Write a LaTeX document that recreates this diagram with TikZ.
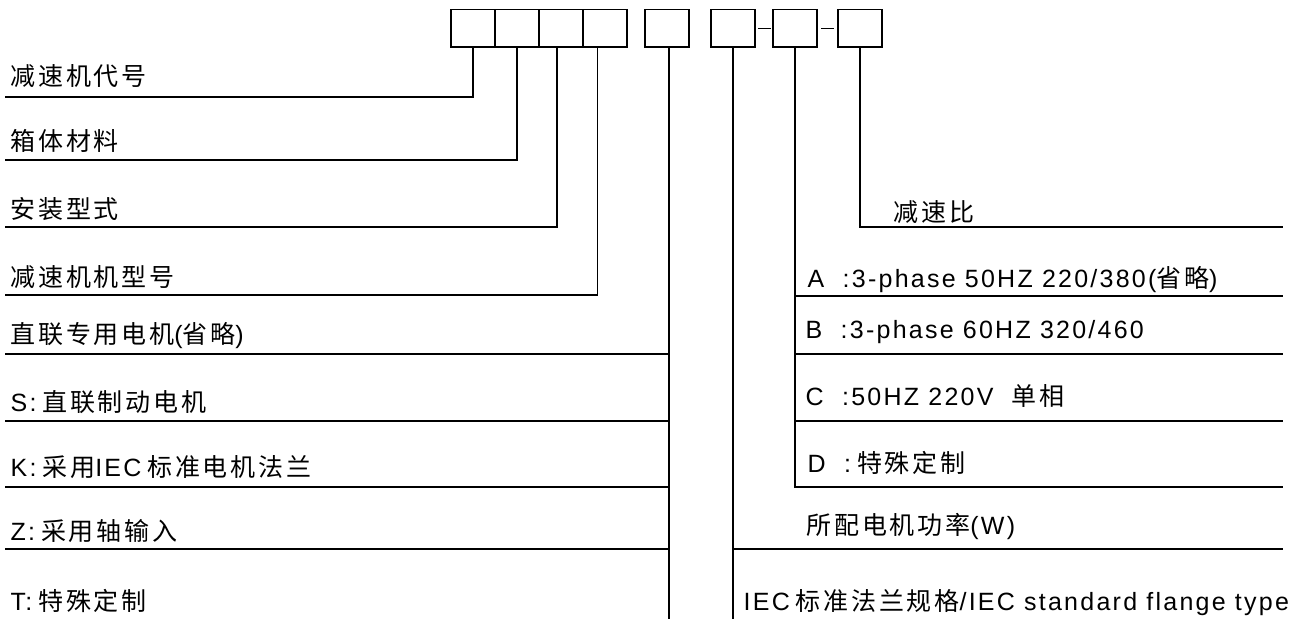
\documentclass[tikz,border=0pt]{standalone}
\usepackage{fontspec}
\setmainfont{Liberation Sans}[LetterSpace=9]
\newfontfamily\cjk{Noto Sans CJK SC}[LetterSpace=11]
\usetikzlibrary{positioning}
\newcommand{\zh}[1]{{\cjk\fontsize{25}{29}\selectfont #1}}
\newcommand{\gap}{\hspace{6pt}}
\newcommand{\leftx}{5}
\newcommand{\rightx}{1283}
\newcommand{\botty}{619}
\tikzset{
  cell/.style={draw, minimum width=44pt, minimum height=37.5pt,
    inner sep=0pt, outer sep=0pt},
  lbl/.style={anchor=base west, inner sep=0pt,
    font=\fontsize{25}{30}\selectfont},
}
\begin{document}
\begin{tikzpicture}[x=1pt, y=-1pt, line width=1.3pt]
    \useasboundingbox (0,0) rectangle (1309,619);
    % code boxes
    \node[cell] (c1) at (473,28.25) {};
    \node[cell, right=0pt of c1] (c2) {};
    \node[cell, right=0pt of c2] (c3) {};
    \node[cell, right=0pt of c3] (c4) {};
    \node[cell, right=18pt of c4] (c5) {};
    \node[cell, right=22pt of c5] (c6) {};
    \node[cell, right=18pt of c6] (c7) {};
    \node[cell, right=21pt of c7] (c8) {};
    \draw[shorten <=3pt, shorten >=2pt] (c6.east) -- (c7.west);
    \draw[shorten <=4pt, shorten >=4pt] (c7.east) -- (c8.west);

    % left labels
    \node[lbl] (t1) at (10,85) {\zh{减速机代号}};
    \node[lbl] (t2) at (10,150) {\zh{箱体材料}};
    \node[lbl] (t3) at (10,218) {\zh{安装型式}};
    \node[lbl] (t4) at (10,286) {\zh{减速机机型号}};
    \node[lbl] (t5) at (10,343) {\zh{直联专用电机}(\zh{省略})};
    \node[lbl] (t6) at (10,411) {S:\gap\zh{直联制动电机}};
    \node[lbl] (t7) at (10,476) {K:\gap\zh{采用}IEC\gap\zh{标准电机法兰}};
    \node[lbl] (t8) at (10,540) {Z:\gap\zh{采用轴输入}};
    \node[lbl] (t9) at (10,610) {T:\gap\zh{特殊定制}};

    % right labels
    \node[lbl] (r1) at (893,221) {\zh{减速比}};
    \node[lbl] (r2) at (807,287) {A\ \ :3-phase 50HZ 220/380(\zh{省略})};
    \node[lbl] (r3) at (805,338) {B\ \ :3-phase 60HZ 320/460};
    \node[lbl] (r4) at (805,405) {C\ \ :50HZ 220V\ \ \zh{单相}};
    \node[lbl] (r5) at (807,472) {D\ \ :\gap\zh{特殊定制}};
    \node[lbl] (r6) at (806,534) {\zh{所配电机功率}(W)};
    \node[lbl] (r7) at (743,610) {IEC\gap\zh{标准法兰规格}/IEC standard flange type};

    % leader lines, left
    \coordinate (e1) at (\leftx,97);
    \coordinate (e2) at (\leftx,160);
    \coordinate (e3) at (\leftx,227);
    \coordinate (e4) at (\leftx,295);
    \draw (c1.south) |- (e1);
    \draw (c2.south) |- (e2);
    \draw ([xshift=-4pt]c3.south) |- (e3);
    \draw ([xshift=-7.5pt]c4.south) |- (e4);
    \coordinate (m5) at (669,\botty);
    \draw (c5.south -| m5) -- (m5);
    \foreach \yy in {354,421,487,549}
      \draw (\leftx,\yy) -- (m5 |- 0,\yy);

    % leader lines, right
    \coordinate (m6) at (c6.south |- 0,\botty);
    \draw (c6.south) -- (m6);
    \draw (c6.south |- 0,549) -- (\rightx,549);
    \draw (c7.south) |- (\rightx,487);
    \foreach \yy in {296,354,421}
      \draw (c7.south |- 0,\yy) -- (\rightx,\yy);
    \draw (c8.south) |- (\rightx,227);
\end{tikzpicture}
\end{document}
